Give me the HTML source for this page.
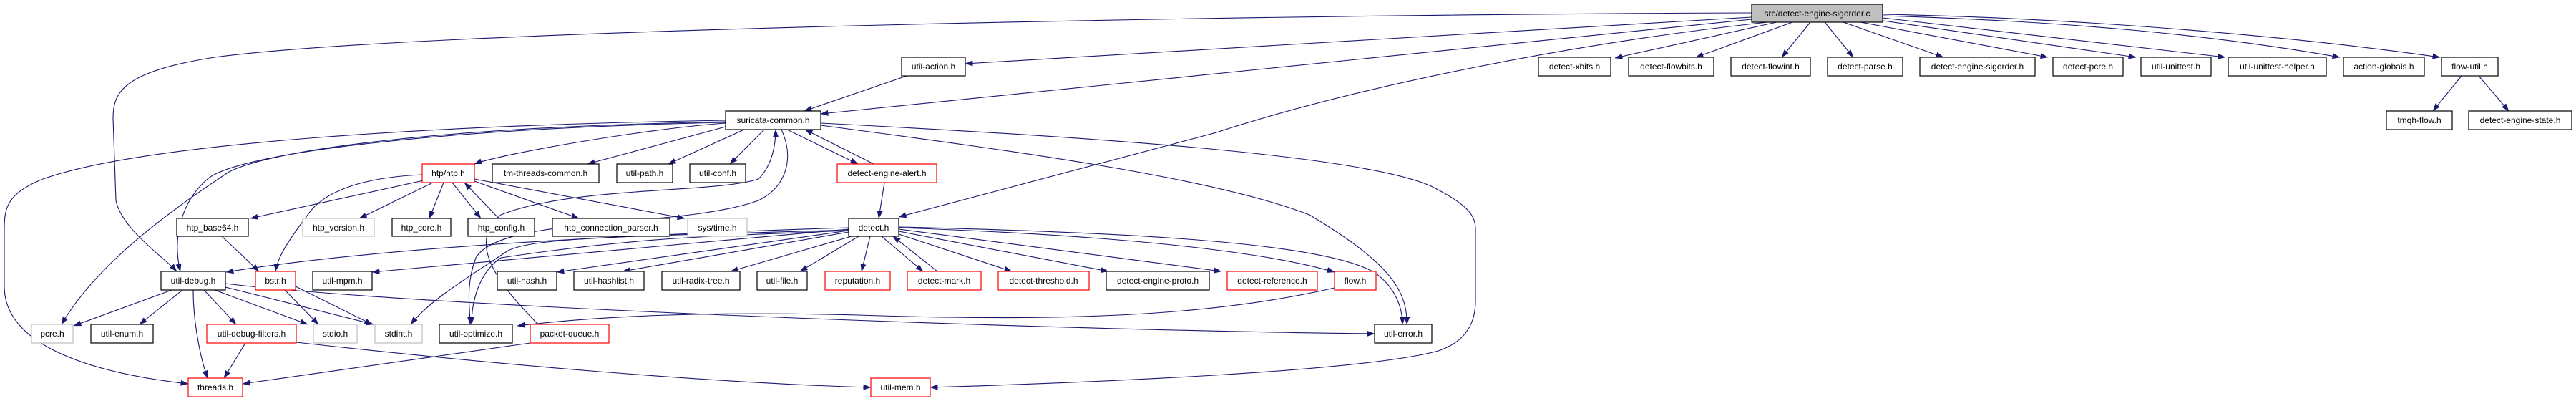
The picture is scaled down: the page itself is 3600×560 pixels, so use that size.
<!DOCTYPE html>
<html><head><meta charset="utf-8"><style>
html,body{margin:0;padding:0;background:#fff;}
svg{display:block;}
text{font-family:"Liberation Sans",sans-serif;font-size:12px;fill:#000;}
</style></head><body>
<svg width="3600" height="560" viewBox="0 0 3600 560" xmlns="http://www.w3.org/2000/svg">
<defs>
<marker id="a" markerWidth="11" markerHeight="8" refX="10.5" refY="4" orient="auto" markerUnits="userSpaceOnUse">
<path d="M0,0 L11,4 L0,8 Z" fill="#191970"/></marker>
</defs>
<g fill="none" stroke="#191970" stroke-width="1.1" marker-end="url(#a)">
<path d="M2448,18 C1800,20 600,40 300,80 C170,100 158,130 158,165 L162,280 C170,320 230,360 247,379"/>
<path d="M2448,24 L1349,89"/>
<path d="M2448,27 L1147,159"/>
<path d="M2470,31 C2200,60 1900,120 1700,185 L1256,303"/>
<path d="M2483,31 L2257,81"/>
<path d="M2505,31 L2370,80"/>
<path d="M2530,31 L2490,80"/>
<path d="M2550,31 L2590,80"/>
<path d="M2576,31 L2716,80"/>
<path d="M2600,31 L2862,80"/>
<path d="M2625,28 L2985,80"/>
<path d="M2631,25 L3110,80"/>
<path d="M2631,22 C2900,30 3100,50 3270,80"/>
<path d="M2631,20 C2900,25 3200,50 3410,80"/>
<path d="M3440,106 L3400,155"/>
<path d="M3464,106 L3506,155"/>
<path d="M1267,106 L1124,155"/>
<path d="M1014,172 C900,180 700,215 663,229"/>
<path d="M1014,177 L821,229"/>
<path d="M1040,181 L934,229"/>
<path d="M1068,181 L1020,229"/>
<path d="M1100,181 L1199,229"/>
<path d="M1221,229 L1125,181"/>
<path d="M1147,175 C1450,215 1700,250 1830,300 C1930,360 1968,400 1966,453"/>
<path d="M1147,172 C1500,190 1900,215 2000,260 C2050,285 2062,300 2062,320 L2062,420 C2062,460 2040,480 2010,490 C1900,520 1500,535 1300,541"/>
<path d="M1014,168 C600,175 200,200 60,250 C10,270 6,290 6,320 L6,400 C6,480 120,520 263,536"/>
<path d="M1014,171 C600,180 330,215 290,250 C255,280 240,330 252,379"/>
<path d="M1014,170 C600,178 380,210 320,240 C260,280 140,360 86,453"/>
<path d="M752,453 C700,400 650,340 700,300 C800,260 1000,270 1060,250 C1080,230 1084,200 1084,181"/>
<path d="M1092,181 C1110,220 1100,260 1060,280 C950,320 700,300 665,360 C650,400 657,430 657,453"/>
<path d="M592,252 L350,305"/>
<path d="M605,255 L502,305"/>
<path d="M620,255 L600,305"/>
<path d="M632,255 L672,305"/>
<path d="M697,305 L649,255"/>
<path d="M663,253 L809,305"/>
<path d="M663,250 C800,275 900,295 957,305"/>
<path d="M590,244 C500,248 450,270 430,300 C400,340 388,360 385,379"/>
<path d="M310,330 L362,379"/>
<path d="M398,405 L445,453"/>
<path d="M413,400 L520,453"/>
<path d="M240,405 L103,455"/>
<path d="M255,405 L195,453"/>
<path d="M270,405 C270,450 280,500 290,528"/>
<path d="M285,405 L330,453"/>
<path d="M300,405 L430,453"/>
<path d="M315,401 L522,453"/>
<path d="M315,396 C600,430 1500,462 1921,466"/>
<path d="M343,479 L313,528"/>
<path d="M414,478 C700,510 1000,535 1217,541"/>
<path d="M741,479 L339,536"/>
<path d="M1236,255 L1228,305"/>
<path d="M1186,318 C800,330 500,350 316,380"/>
<path d="M1186,320 L520,380"/>
<path d="M1186,322 L778,380"/>
<path d="M1186,324 L870,379"/>
<path d="M1190,330 L1021,379"/>
<path d="M1200,330 L1118,379"/>
<path d="M1216,330 L1204,379"/>
<path d="M1232,330 L1290,379"/>
<path d="M1310,379 L1248,330"/>
<path d="M1256,327 L1414,379"/>
<path d="M1256,323 L1549,379"/>
<path d="M1256,320 L1707,379"/>
<path d="M1256,318 C1600,330 1780,355 1865,380"/>
<path d="M1256,317 C1600,325 1850,340 1920,380 C1950,400 1960,430 1960,453"/>
<path d="M1186,322 C1000,330 900,330 700,360 C670,380 659,420 659,453"/>
<path d="M1186,321 C900,330 750,330 710,350 C650,390 600,420 574,453"/>
<path d="M1865,402 C1700,440 1500,450 1200,440 C1000,435 850,440 723,455"/>
</g>
<g stroke-width="1.2">
<!-- black nodes -->
<g fill="#fff" stroke="#000">
<rect x="1260" y="80" width="89" height="26"/>
<rect x="2150" y="80" width="101" height="26"/>
<rect x="2276" y="80" width="119" height="26"/>
<rect x="2419" y="80" width="111" height="26"/>
<rect x="2554" y="80" width="105" height="26"/>
<rect x="2683" y="80" width="161" height="26"/>
<rect x="2869" y="80" width="98" height="26"/>
<rect x="2992" y="80" width="98" height="26"/>
<rect x="3114" y="80" width="137" height="26"/>
<rect x="3275" y="80" width="113" height="26"/>
<rect x="3412" y="80" width="79" height="26"/>
<rect x="1014" y="155" width="133" height="26"/>
<rect x="3335" y="155" width="92" height="26"/>
<rect x="3450" y="155" width="144" height="26"/>
<rect x="688" y="229" width="149" height="26"/>
<rect x="862" y="229" width="78" height="26"/>
<rect x="964" y="229" width="78" height="26"/>
<rect x="247" y="305" width="100" height="25"/>
<rect x="548" y="305" width="82" height="25"/>
<rect x="654" y="305" width="93" height="25"/>
<rect x="772" y="305" width="164" height="25"/>
<rect x="1186" y="305" width="70" height="25"/>
<rect x="225" y="379" width="90" height="26"/>
<rect x="437" y="379" width="83" height="26"/>
<rect x="695" y="379" width="83" height="26"/>
<rect x="802" y="379" width="98" height="26"/>
<rect x="925" y="379" width="109" height="26"/>
<rect x="1058" y="379" width="70" height="26"/>
<rect x="1546" y="379" width="144" height="26"/>
<rect x="127" y="453" width="87" height="26"/>
<rect x="614" y="453" width="102" height="26"/>
<rect x="1921" y="453" width="80" height="26"/>
</g>
<g fill="#fff" stroke="#ff0000">
<rect x="590" y="229" width="73" height="26"/>
<rect x="1170" y="229" width="139" height="26"/>
<rect x="357" y="379" width="56" height="26"/>
<rect x="1153" y="379" width="91" height="26"/>
<rect x="1268" y="379" width="103" height="26"/>
<rect x="1395" y="379" width="127" height="26"/>
<rect x="1715" y="379" width="126" height="26"/>
<rect x="1865" y="379" width="58" height="26"/>
<rect x="289" y="453" width="125" height="26"/>
<rect x="741" y="453" width="110" height="26"/>
<rect x="263" y="528" width="76" height="26"/>
<rect x="1217" y="528" width="83" height="26"/>
</g>
<g fill="#fff" stroke="#bfbfbf">
<rect x="423" y="305" width="100" height="25"/>
<rect x="961" y="305" width="83" height="25"/>
<rect x="44" y="453" width="58" height="26"/>
<rect x="438" y="453" width="61" height="26"/>
<rect x="524" y="453" width="66" height="26"/>
</g>
<rect x="2448" y="6" width="183" height="25" fill="#bfbfbf" stroke="#000"/>
</g>
<g text-anchor="middle">
<text x="2539.5" y="23">src/detect-engine-sigorder.c</text>
<text x="1304.5" y="97">util-action.h</text>
<text x="2200.5" y="97">detect-xbits.h</text>
<text x="2335.5" y="97">detect-flowbits.h</text>
<text x="2474.5" y="97">detect-flowint.h</text>
<text x="2606.5" y="97">detect-parse.h</text>
<text x="2763.5" y="97">detect-engine-sigorder.h</text>
<text x="2918" y="97">detect-pcre.h</text>
<text x="3041" y="97">util-unittest.h</text>
<text x="3182.5" y="97">util-unittest-helper.h</text>
<text x="3331.5" y="97">action-globals.h</text>
<text x="3451.5" y="97">flow-util.h</text>
<text x="1080.5" y="172">suricata-common.h</text>
<text x="3381" y="172">tmqh-flow.h</text>
<text x="3522" y="172">detect-engine-state.h</text>
<text x="626.5" y="246">htp/htp.h</text>
<text x="762.5" y="246">tm-threads-common.h</text>
<text x="901" y="246">util-path.h</text>
<text x="1003" y="246">util-conf.h</text>
<text x="1239.5" y="246">detect-engine-alert.h</text>
<text x="297" y="322">htp_base64.h</text>
<text x="473" y="322">htp_version.h</text>
<text x="589" y="322">htp_core.h</text>
<text x="700.5" y="322">htp_config.h</text>
<text x="854" y="322">htp_connection_parser.h</text>
<text x="1002.5" y="322">sys/time.h</text>
<text x="1221" y="322">detect.h</text>
<text x="270" y="396">util-debug.h</text>
<text x="385" y="396">bstr.h</text>
<text x="478.5" y="396">util-mpm.h</text>
<text x="736.5" y="396">util-hash.h</text>
<text x="851" y="396">util-hashlist.h</text>
<text x="979.5" y="396">util-radix-tree.h</text>
<text x="1093" y="396">util-file.h</text>
<text x="1198.5" y="396">reputation.h</text>
<text x="1319.5" y="396">detect-mark.h</text>
<text x="1458.5" y="396">detect-threshold.h</text>
<text x="1618" y="396">detect-engine-proto.h</text>
<text x="1778" y="396">detect-reference.h</text>
<text x="1894" y="396">flow.h</text>
<text x="73" y="470">pcre.h</text>
<text x="170.5" y="470">util-enum.h</text>
<text x="351.5" y="470">util-debug-filters.h</text>
<text x="468.5" y="470">stdio.h</text>
<text x="557" y="470">stdint.h</text>
<text x="665" y="470">util-optimize.h</text>
<text x="796" y="470">packet-queue.h</text>
<text x="1961" y="470">util-error.h</text>
<text x="301" y="545">threads.h</text>
<text x="1258.5" y="545">util-mem.h</text>
</g>
</svg>
</body></html>
